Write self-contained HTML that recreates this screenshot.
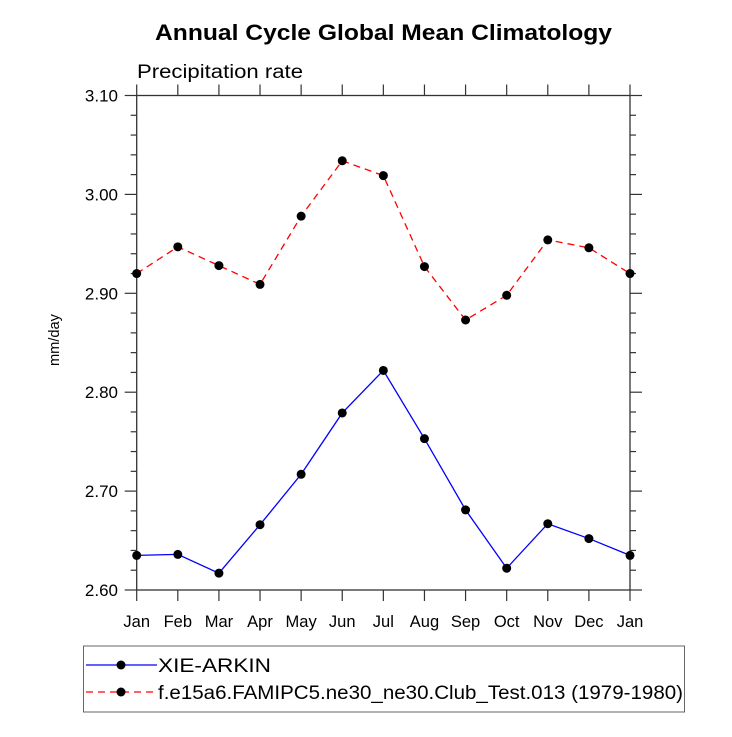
<!DOCTYPE html>
<html><head><meta charset="utf-8"><style>
body{margin:0;background:#fff;}
svg text{font-family:"Liberation Sans",Helvetica,Arial,sans-serif;}
</style></head><body>
<svg id="c" width="732" height="732" xmlns="http://www.w3.org/2000/svg">
<rect width="732" height="732" fill="#fff"/>
<text x="155" y="40" textLength="457" lengthAdjust="spacingAndGlyphs" font-size="22" font-weight="bold">Annual Cycle Global Mean Climatology</text>
<text x="137" y="78" textLength="166" lengthAdjust="spacingAndGlyphs" font-size="19">Precipitation rate</text>
<text transform="translate(59,340) rotate(-90)" text-anchor="middle" textLength="52" lengthAdjust="spacingAndGlyphs" font-size="15">mm/day</text>
<g id="axes"></g>
<g id="series"></g>
<g id="legend"></g>
</svg>
<script>
const months=["Jan","Feb","Mar","Apr","May","Jun","Jul","Aug","Sep","Oct","Nov","Dec","Jan"];
const obsValues=[2.635,2.636,2.617,2.666,2.717,2.779,2.822,2.753,2.681,2.622,2.667,2.652,2.635];
const modelValues=[2.920,2.947,2.928,2.909,2.978,3.034,3.019,2.927,2.873,2.898,2.954,2.946,2.920];
const yTicks=[2.60,2.70,2.80,2.90,3.00,3.10];
const seriesNames=["XIE-ARKIN","f.e15a6.FAMIPC5.ne30_ne30.Club_Test.013 (1979-1980)"];
const NS="http://www.w3.org/2000/svg";
const L=136.7,R=630,T=95.5,B=590,ymin=2.6,ymax=3.1;
const xs=i=>L+i*(R-L)/(months.length-1);
const ys=v=>B-(v-ymin)/(ymax-ymin)*(B-T);
function mk(tag,attrs,parent){const e=document.createElementNS(NS,tag);for(const k in attrs)e.setAttribute(k,attrs[k]);parent.appendChild(e);return e;}
const ax=document.getElementById('axes');
const frame=mk('rect',{x:L,y:T,width:R-L,height:B-T,fill:'none',stroke:'#333','stroke-width':1.3},ax);


months.forEach((m,i)=>{
  const x=xs(i);
  const t1=mk('line',{x1:x,x2:x,y1:B,y2:B+11,stroke:'#333','stroke-width':1.2},ax);
  
  
  const t2=mk('line',{x1:x,x2:x,y1:T,y2:T-11,stroke:'#333','stroke-width':1.2},ax);
  
  
  const tx=mk('text',{x:x,y:627,'text-anchor':'middle','font-size':16.5},ax);
  tx.textContent=m;
  
  
});
for(let v=2.6;v<=3.1001;v+=0.02){
  const y=ys(v);
  const major=Math.abs(Math.round(v*10)-v*10)<1e-6;
  const len=major?12:6;
  const a=mk('line',{x1:L-len,x2:L,y1:y,y2:y,stroke:'#333','stroke-width':1.2},ax);
  
  
  const b=mk('line',{x1:R,x2:R+len,y1:y,y2:y,stroke:'#333','stroke-width':1.2},ax);
  
  
}
yTicks.forEach(v=>{
  const t=mk('text',{x:118,y:ys(v)+6,'text-anchor':'end','font-size':17},ax);
  t.textContent=v.toFixed(2);
  
  
});
const sg=document.getElementById('series');
function series(vals,color,dash,name){
  const p=mk('polyline',{points:vals.map((v,i)=>xs(i)+','+ys(v)).join(' '),fill:'none',stroke:color,'stroke-width':1.3,'stroke-dasharray':dash},sg);
  
  
  vals.forEach((v,i)=>{
    const c=mk('circle',{cx:xs(i),cy:ys(v),r:4.5,fill:'#000'},sg);
    
    
  });
}
series(modelValues,'#f00','7,5','model');
series(obsValues,'#00f','none','obs');
const lg=document.getElementById('legend');
const box=mk('rect',{x:83.5,y:646,width:601,height:66,fill:'none',stroke:'#666','stroke-width':1},lg);


[[seriesNames[0],'#00f','none',665,113],[seriesNames[1],'#f00','7,5',692,525]].forEach((r,k)=>{
  const l=mk('line',{x1:86,x2:157,y1:r[3],y2:r[3],stroke:r[1],'stroke-width':1.3,'stroke-dasharray':r[2]},lg);
  
  
  const c=mk('circle',{cx:121,cy:r[3],r:4.5,fill:'#000'},lg);
  
  
  const t=mk('text',{x:158,y:r[3]+7,'font-size':19,textLength:r[4],lengthAdjust:'spacingAndGlyphs'},lg);
  t.textContent=r[0];
  
  
});
</script>
</body></html>
